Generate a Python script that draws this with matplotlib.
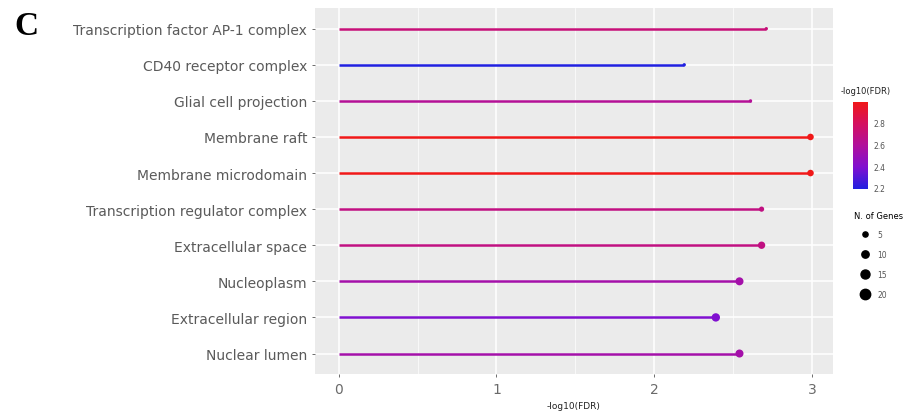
import numpy as np
import matplotlib
matplotlib.use("Agg")
import matplotlib.pyplot as plt
from matplotlib.colors import LinearSegmentedColormap, Normalize
from matplotlib.lines import Line2D

terms = ["Transcription factor AP-1 complex", "CD40 receptor complex",
         "Glial cell projection", "Membrane raft", "Membrane microdomain",
         "Transcription regulator complex", "Extracellular space",
         "Nucleoplasm", "Extracellular region", "Nuclear lumen"]
fdr = [2.71, 2.19, 2.61, 2.99, 2.99, 2.68, 2.68, 2.54, 2.39, 2.54]
genes = [2, 2, 2, 8, 8, 5, 10, 12, 13, 12]
size_breaks = [5, 10, 15, 20]
cbar_ticks = [2.2, 2.4, 2.6, 2.8]

cmap = LinearSegmentedColormap.from_list(
    "bluered", ["#2020E0", "#8010D0", "#B0109C", "#D41060", "#F01818"])
norm = Normalize(vmin=min(fdr), vmax=max(fdr))


def area(n):
    return 2.8 * n


fig = plt.figure(figsize=(9.21, 4.14), dpi=100)
ax = fig.add_axes([0.342, 0.094, 0.562, 0.884])
ax.set_facecolor("#EBEBEB")

y = np.arange(len(terms))[::-1] + 1
cols = cmap(norm(fdr))
ax.hlines(y, 0, fdr, colors=cols, linewidth=1.8, zorder=3)
ax.scatter(fdr, y, s=[area(g) for g in genes], c=cols, zorder=4, linewidths=0)

ax.set_xlim(-0.15, 3.13)
ax.set_ylim(0.43, 10.57)
ax.set_yticks(y)
ax.set_yticklabels(terms, fontsize=10, color="#5a5a5a")
ax.set_xticks([0, 1, 2, 3])
ax.set_xticklabels(["0", "1", "2", "3"], fontsize=10, color="#6a6a6a")
ax.set_xticks([0.5, 1.5, 2.5], minor=True)
ax.tick_params(axis="both", which="major", length=2.5, color="#555555", width=0.6, pad=3)
ax.tick_params(axis="x", which="minor", length=0)
ax.grid(which="major", color="white", linewidth=1.1, zorder=0)
ax.grid(which="minor", axis="x", color="white", linewidth=0.5, zorder=0)
ax.set_axisbelow(True)
for s in ax.spines.values():
    s.set_visible(False)
ax.set_xlabel("-log10(FDR)", fontsize=6.5, color="#222222", labelpad=4)

fig.text(0.016, 0.935, "C", fontsize=24, fontweight="bold",
         family="Liberation Serif", va="center", ha="left")

# colour bar
cax = fig.add_axes([0.926, 0.541, 0.016, 0.210])
cb = fig.colorbar(plt.cm.ScalarMappable(norm=norm, cmap=cmap), cax=cax)
cb.set_ticks(cbar_ticks)
cb.ax.tick_params(labelsize=5.5, colors="#555555", length=0, pad=4)
cb.outline.set_visible(False)
fig.text(0.913, 0.778, "-log10(FDR)", fontsize=6, color="#222222", va="center")

# size legend
handles = [Line2D([], [], linestyle="none", marker="o", color="black",
                  markersize=np.sqrt(area(b))) for b in size_breaks]
leg = fig.legend(handles, [str(b) for b in size_breaks], title="N. of Genes",
                 loc="upper left", bbox_to_anchor=(0.923, 0.497), frameon=False,
                 fontsize=5.5, title_fontsize=6, handletextpad=0.2,
                 labelspacing=1.45, borderpad=0, handlelength=2.9)
leg._legend_box.align = "left"
leg._legend_box.sep = 7
for t in leg.get_texts():
    t.set_color("#555555")

fig.savefig("out.png", dpi=100)
